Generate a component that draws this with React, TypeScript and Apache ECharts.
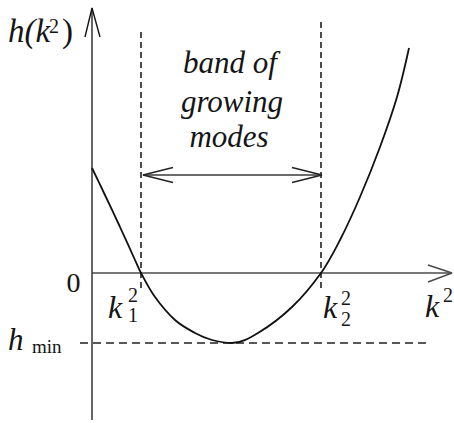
import React, { useEffect, useRef } from "react";
import * as echarts from "echarts";

// Dispersion curve h(k^2): growth-rate function against squared wavenumber
const curveK = [0, 1.2, 2.8, 4.3, 4.9, 6.3, 8.3, 10.3, 12.0, 14.0, 16.6, 20.0, 22.9, 24.8, 26.8, 28.8, 30.5, 31.7];
const curveH = [10.5, 8.0, 4.6, 1.3, 0, -2.4, -4.7, -6.0, -6.7, -7.0, -6.0, -3.4, 0, 3.3, 7.6, 12.6, 17.6, 22.5];

// Roots of h and its minimum
const k1Sq = 4.9;
const k2Sq = 22.9;
const hMin = -7.0;

// Extent of guide lines
const k1Span = [24.1, -1.5];
const k2Span = [25.1, -1.7];
const hMinSpan = [-1.2, 33.8];

// Double arrow marking the unstable band
const bandArrowY = 9.8;
const bandArrowX = [5.1, 23.0];
const arrowHeadLen = 3.0;
const arrowHeadHalf = 0.75;

// Drawn axes (k^2 axis and h axis) with open arrowheads
const kAxisEnd = 36;
const hAxisTop = 26.5;
const hAxisBottom = -14.7;

// Visible coordinate window
const kRange = [-9.2, 36.2];
const hRange = [-15.0, 27.3];

const ink = "#151515";
const axisInk = "#4a4a4a";
const SERIF = '"Liberation Serif", "Times New Roman", serif';

function txt(text: string, x: number, base: number, size: number, italic: boolean, align: string = "left") {
  return {
    type: "text",
    x,
    y: base - size * 0.34,
    silent: true,
    style: {
      text,
      font: `${italic ? "italic " : ""}${size}px ${SERIF}`,
      fill: ink,
      align,
      verticalAlign: "middle",
    },
  };
}

export default function App() {
  const ref = useRef<HTMLDivElement>(null);

  useEffect(() => {
    if (!ref.current) return;
    const chart = echarts.init(ref.current, null, { renderer: "svg" });

    const lineSeries = (data: number[][], color: string, width: number, type: any = "solid") => ({
      type: "line",
      data,
      symbol: "none",
      silent: true,
      lineStyle: { color, width, type },
    });

    const curve = curveK.map((k, i) => [k, curveH[i]]);
    const [xa, xb] = bandArrowX;

    chart.setOption({
      animation: false,
      backgroundColor: "#fff",
      grid: { left: 0, top: 0, width: 454, height: 423 },
      xAxis: {
        type: "value",
        min: kRange[0],
        max: kRange[1],
        show: false,
      },
      yAxis: {
        type: "value",
        min: hRange[0],
        max: hRange[1],
        show: false,
      },
      series: [
        // axes
        lineSeries([[0, 0], [kAxisEnd, 0]], axisInk, 1.5),
        lineSeries([[0, hAxisTop], [0, hAxisBottom]], "#333", 1.5),
        lineSeries([[kAxisEnd - 2.4, 0.8], [kAxisEnd, 0], [kAxisEnd - 2.4, -0.9]], axisInk, 1.4),
        lineSeries([[-0.7, hAxisTop - 2.9], [0, hAxisTop], [0.8, hAxisTop - 2.9]], ink, 1.4),
        // guide lines
        lineSeries([[k1Sq, k1Span[0]], [k1Sq, k1Span[1]]], "#111", 1.5, [6, 4]),
        lineSeries([[k2Sq, k2Span[0]], [k2Sq, k2Span[1]]], "#111", 1.5, [6, 4]),
        lineSeries([[hMinSpan[0], hMin], [hMinSpan[1], hMin]], "#222", 1.3, [8, 5]),
        // band arrow
        lineSeries([[xa, bandArrowY], [xb, bandArrowY]], "#3a3a3a", 1.4),
        lineSeries(
          [[xa + arrowHeadLen, bandArrowY + arrowHeadHalf], [xa, bandArrowY], [xa + arrowHeadLen, bandArrowY - arrowHeadHalf]],
          "#222",
          1.4
        ),
        lineSeries(
          [[xb - arrowHeadLen, bandArrowY + arrowHeadHalf], [xb, bandArrowY], [xb - arrowHeadLen, bandArrowY - arrowHeadHalf]],
          "#222",
          1.4
        ),
        // h(k^2)
        {
          type: "line",
          data: curve,
          smooth: 0.35,
          symbol: "none",
          silent: true,
          lineStyle: { color: "#111", width: 1.8 },
        },
      ],
      graphic: [
        txt("h(k", 8, 42, 33, true),
        txt("2", 49, 33, 20, false),
        txt(")", 62, 42, 33, false),
        txt("band of", 230, 73, 31, true, "center"),
        txt("growing", 232, 112, 31, true, "center"),
        txt("modes", 229, 147, 31, true, "center"),
        txt("0", 73.5, 292, 28, false, "center"),
        txt("k", 108, 318, 32, true),
        txt("1", 128, 322, 20, false),
        txt("2", 128, 302, 20, false),
        txt("k", 323, 318, 32, true),
        txt("2", 341, 326, 20, false),
        txt("2", 341, 305, 20, false),
        txt("k", 425, 317, 32, true),
        txt("2", 443, 302, 20, false),
        txt("h", 8, 350, 31, true),
        txt("min", 32, 353, 19, false),
      ],
    });

    return () => chart.dispose();
  }, []);

  return (
    <div
      ref={ref}
      style={{ position: "fixed", left: 0, top: 0, width: 454, height: 423, background: "#fff" }}
    />
  );
}
